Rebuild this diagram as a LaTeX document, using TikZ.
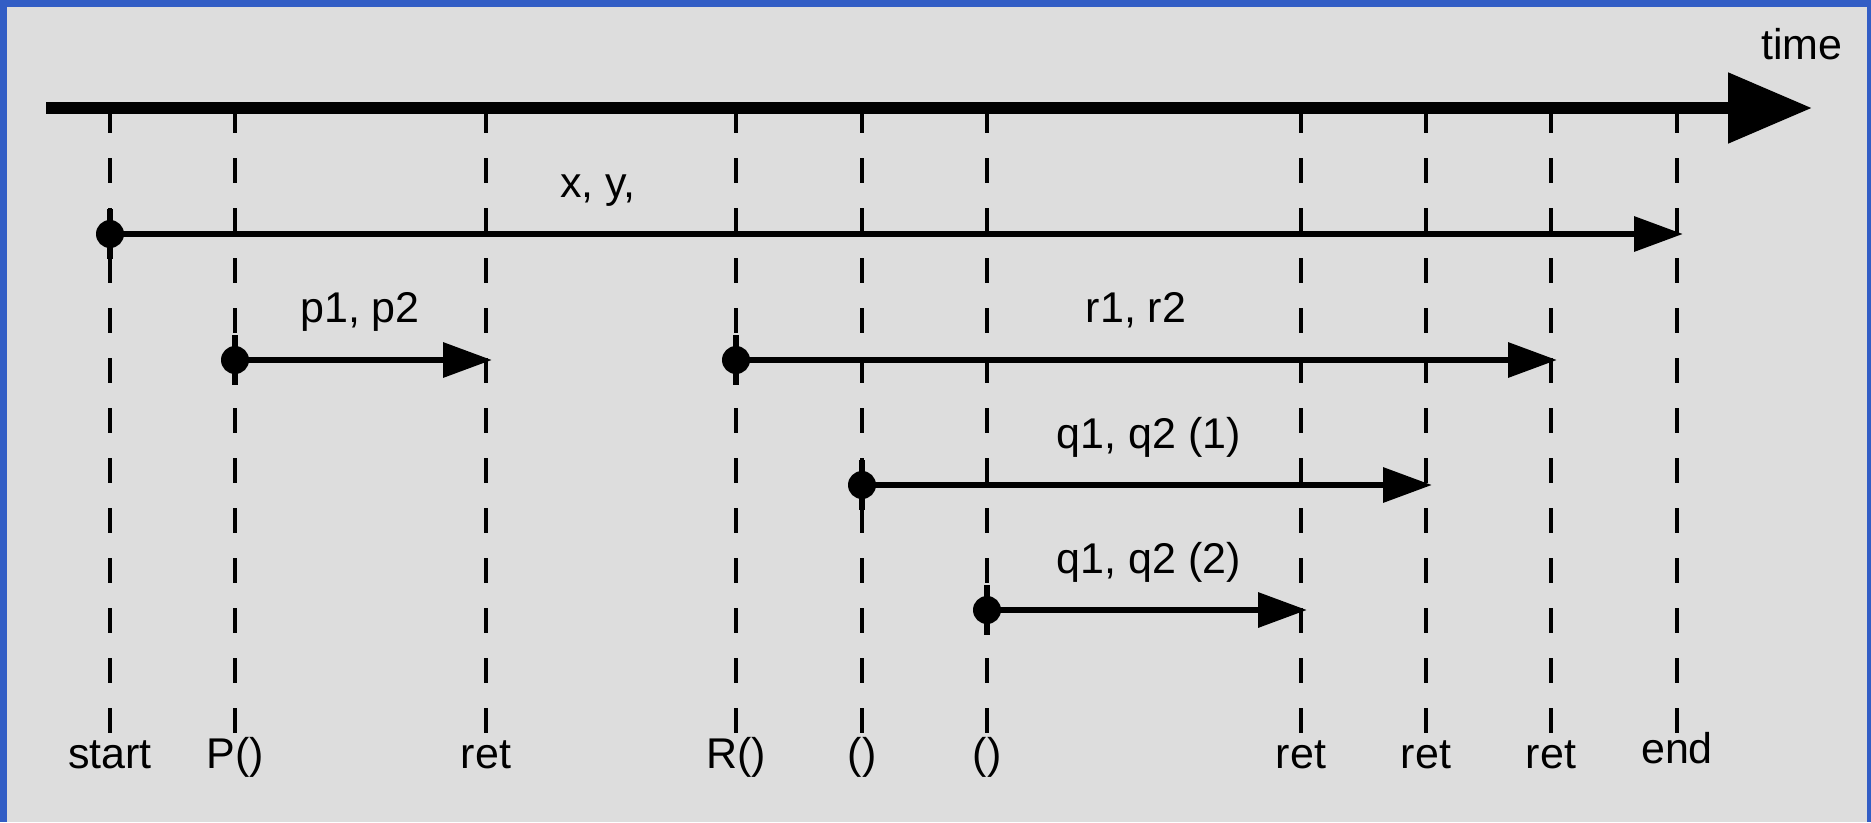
\documentclass[tikz,border=0pt]{standalone}
\usepackage{fontspec}
\setmainfont{Liberation Sans}
\usetikzlibrary{arrows.meta}
\definecolor{bgray}{RGB}{221,221,221}
\definecolor{frameblue}{RGB}{50,93,197}
\begin{document}
\begin{tikzpicture}[x=1pt,y=-1pt,
  guide/.style={line width=3.5pt, dash pattern=on 25pt off 25pt},
  span/.style={line width=6.5pt, -{Triangle[length=49pt,width=34pt]}},
  startbar/.style={line width=6.5pt},
  dot/.style={circle, fill=black, minimum size=28pt, inner sep=0pt},
  lbl/.style={anchor=base, inner sep=0pt, font=\fontsize{43}{50}\selectfont},
  axisline/.style={line width=12pt, -{Triangle[length=84pt,width=68pt]}}
]
\useasboundingbox (0,0) rectangle (1871,822);
\fill[bgray] (0,0) rectangle (1871,822);
\fill[frameblue] (0,0) rectangle (7,822);
\fill[frameblue] (0,0) rectangle (1871,7);
\fill[frameblue] (1867,0) rectangle (1871,822);

% guide lines
\foreach \i/\x in {1/110,2/235,3/486,4/736,5/862,6/987,7/1301,8/1426,9/1551,10/1677}{
  \coordinate (t\i) at (\x,108);
  \coordinate (b\i) at (\x,734);
  \draw[guide] (t\i) -- (b\i);
}

% bottom labels
\node[lbl] (L1) at (110,768) {start};
\node[lbl] (L2) at (235,768) {P()};
\node[lbl] (L3) at (486,768) {ret};
\node[lbl] (L4) at (736,768) {R()};
\node[lbl] (L5) at (862,768) {()};
\node[lbl] (L6) at (987,768) {()};
\node[lbl] (L7) at (1301,768) {ret};
\node[lbl] (L8) at (1426,768) {ret};
\node[lbl] (L9) at (1551,768) {ret};
\node[lbl] (L10) at (1677,763) {end};

% time axis
\coordinate (ax0) at (46,108);
\coordinate (ax1) at (1812,108);
\draw[axisline] (ax0) -- (ax1);
\node[lbl] (time) at (1802,59) {time};

% spans: start x, row y, end x, name
\foreach \n/\sx/\ry/\ex in {1/110/234/1683, 2/235/360/492, 3/736/360/1557, 4/862/485/1432, 5/987/610/1307}{
  \coordinate (sa\n) at (\sx,\ry-25);
  \coordinate (sb\n) at (\sx,\ry+25);
  \draw[startbar] (sa\n) -- (sb\n);
  \node[dot] (s\n) at (\sx,\ry) {};
  \coordinate (e\n) at (\ex,\ry);
  \draw[span] (s\n.center) -- (e\n);
}

% span labels
\node[lbl] (x1) at (598,197) {x, y,};
\node[lbl] (x2) at (360,322) {p1, p2};
\node[lbl] (x3) at (1136,322) {r1, r2};
\node[lbl] (x4) at (1149,448) {q1, q2 (1)};
\node[lbl] (x5) at (1149,573) {q1, q2 (2)};
\end{tikzpicture}
\end{document}
